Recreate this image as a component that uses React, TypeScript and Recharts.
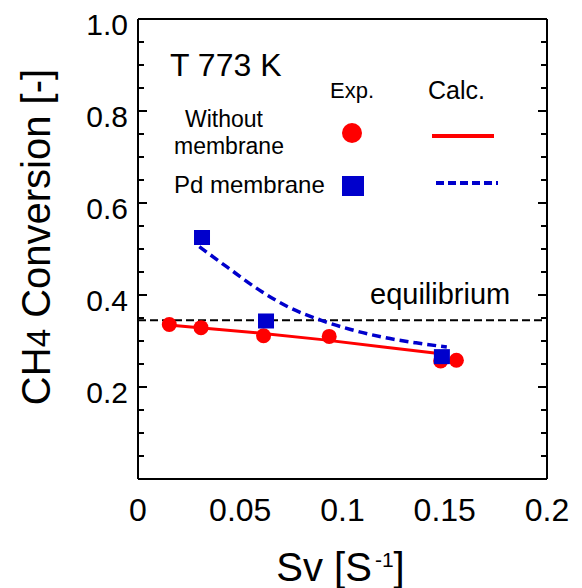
import React from 'react'
import { ComposedChart, Line, Scatter, XAxis, YAxis, ReferenceLine } from 'recharts'

const FONT = '"Liberation Sans", Arial, Helvetica, sans-serif'
const RED = '#ff0000'
const BLUE = '#0000cc'

const expSvWithout = [0.0153, 0.0308, 0.0614, 0.0935, 0.148, 0.1557]
const expConvWithout = [0.336, 0.329, 0.3115, 0.31, 0.2565, 0.258]
const expSvPd = [0.0313, 0.0626, 0.1486]
const expConvPd = [0.525, 0.3435, 0.266]

// calculated curves
const calcSvWithout = [0.015, 0.03, 0.06, 0.09, 0.12, 0.147]
const calcConvWithout = [0.335, 0.329, 0.317, 0.303, 0.287, 0.273]
const calcSvPd = [0.03, 0.0435, 0.0606, 0.073, 0.089, 0.104, 0.12, 0.136, 0.151]
const calcConvPd = [0.505, 0.461, 0.407, 0.375, 0.346, 0.325, 0.308, 0.296, 0.287]

const equilibrium = 0.345

// axes
const xDomain = [0, 0.2]
const yDomain = [0, 1]
const xLabels = [0, 0.05, 0.1, 0.15, 0.2]
const xMajor = [0.05, 0.1, 0.15]
const xMinor = [0.01, 0.02, 0.03, 0.04, 0.06, 0.07, 0.08, 0.09, 0.11, 0.12, 0.13, 0.14, 0.16, 0.17, 0.18, 0.19]
const yLabels = [0.2, 0.4, 0.6, 0.8, 1.0]
const yMajor = [0.2, 0.4, 0.6, 0.8]
const yMinor = [0.05, 0.1, 0.15, 0.25, 0.3, 0.35, 0.45, 0.5, 0.55, 0.65, 0.7, 0.75, 0.85, 0.9, 0.95]

const toPoints = (xs: number[], ys: number[]) => xs.map((sv, i) => ({ sv, conv: ys[i] }))

const expWithout = toPoints(expSvWithout, expConvWithout)
const expPd = toPoints(expSvPd, expConvPd)
const calcWithout = toPoints(calcSvWithout, calcConvWithout)
const calcPd = toPoints(calcSvPd, calcConvPd)

const Blank = () => <g />

function RedDot({ cx, cy }: any) {
  return <circle cx={cx} cy={cy} r={7.5} fill={RED} />
}

function BlueSquare({ cx, cy }: any) {
  return <rect x={cx - 8} y={cy - 7.5} width={16} height={15} fill={BLUE} />
}

function YLabel({ viewBox }: any) {
  const cx = viewBox.x + 50
  const cy = viewBox.y + viewBox.height / 2 - 12
  return (
    <text
      x={cx}
      y={cy}
      transform={`rotate(-90 ${cx} ${cy})`}
      textAnchor="middle"
      fontSize={40}
      fontFamily={FONT}
      fill="#000"
    >
      CH<tspan fontSize={33}>4</tspan> Conversion [-]
    </text>
  )
}

function XLabel({ viewBox }: any) {
  const cx = viewBox.x + viewBox.width / 2 - 2
  const cy = viewBox.y + 102
  return (
    <text x={cx} y={cy} textAnchor="middle" fontSize={40} fontFamily={FONT} fill="#000">
      Sv [S
      <tspan fontSize={21} dx={3} dy={-14}>-1</tspan>
      <tspan dy={14}>]</tspan>
    </text>
  )
}

const tickStroke = { stroke: '#000', strokeWidth: 2 }
const frame = { stroke: '#000', strokeWidth: 2 }
// mirrored axes must keep a non-zero size or recharts skips them
const THIN = 0.01

export default function App() {
  return (
    <div style={{ position: 'absolute', left: 0, top: 0, width: 582, height: 588, background: '#fff' }}>
      <ComposedChart width={582} height={588} margin={{ top: 19, right: 35, bottom: 0, left: 0 }}>
        {/* label axes carrying the data */}
        <XAxis
          xAxisId="x"
          dataKey="sv"
          type="number"
          domain={xDomain}
          allowDataOverflow
          ticks={xLabels}
          interval={0}
          height={109}
          tickSize={0}
          tickMargin={19}
          tickLine={false}
          axisLine={frame}
          tick={{ fontSize: 32, fill: '#000', fontFamily: FONT }}
          label={XLabel}
        />
        <YAxis
          yAxisId="y"
          type="number"
          domain={yDomain}
          allowDataOverflow
          ticks={yLabels}
          interval={0}
          width={138}
          tickSize={0}
          tickMargin={10}
          tickLine={false}
          axisLine={frame}
          tickFormatter={(v: number) => v.toFixed(1)}
          tick={{ fontSize: 30, fill: '#000', fontFamily: FONT, dy: 5 }}
          label={YLabel}
        />

        {/* inward tick marks on all four sides */}
        <XAxis xAxisId="bMaj" orientation="bottom" mirror height={THIN} type="number" domain={xDomain} allowDataOverflow ticks={xMajor} interval={0} tickSize={10} tickLine={tickStroke} axisLine={false} tick={Blank} />
        <XAxis xAxisId="bMin" orientation="bottom" mirror height={THIN} type="number" domain={xDomain} allowDataOverflow ticks={xMinor} interval={0} tickSize={6} tickLine={tickStroke} axisLine={false} tick={Blank} />
        <XAxis xAxisId="tMaj" orientation="top" mirror height={THIN} type="number" domain={xDomain} allowDataOverflow ticks={xMajor} interval={0} tickSize={9} tickLine={tickStroke} axisLine={frame} tick={Blank} />
        <XAxis xAxisId="tMin" orientation="top" mirror height={THIN} type="number" domain={xDomain} allowDataOverflow ticks={xMinor} interval={0} tickSize={6} tickLine={tickStroke} axisLine={false} tick={Blank} />
        <YAxis yAxisId="lMaj" orientation="left" mirror width={THIN} type="number" domain={yDomain} allowDataOverflow ticks={yMajor} interval={0} tickSize={9} tickLine={tickStroke} axisLine={false} tick={Blank} />
        <YAxis yAxisId="lMin" orientation="left" mirror width={THIN} type="number" domain={yDomain} allowDataOverflow ticks={yMinor} interval={0} tickSize={6} tickLine={tickStroke} axisLine={false} tick={Blank} />
        <YAxis yAxisId="rMaj" orientation="right" mirror width={THIN} type="number" domain={yDomain} allowDataOverflow ticks={yMajor} interval={0} tickSize={9} tickLine={tickStroke} axisLine={frame} tick={Blank} />
        <YAxis yAxisId="rMin" orientation="right" mirror width={THIN} type="number" domain={yDomain} allowDataOverflow ticks={yMinor} interval={0} tickSize={6} tickLine={tickStroke} axisLine={false} tick={Blank} />

        <ReferenceLine xAxisId="x" yAxisId="y" y={equilibrium} stroke="#000" strokeWidth={2} strokeDasharray="8 4" />

        <Line
          xAxisId="x"
          yAxisId="y"
          data={calcWithout}
          dataKey="conv"
          type="linear"
          stroke={RED}
          strokeWidth={3}
          dot={false}
          activeDot={false}
          isAnimationActive={false}
        />
        <Line
          xAxisId="x"
          yAxisId="y"
          data={calcPd}
          dataKey="conv"
          type="monotone"
          stroke={BLUE}
          strokeWidth={3.5}
          strokeDasharray="9 5"
          dot={false}
          activeDot={false}
          isAnimationActive={false}
        />
        <Scatter xAxisId="x" yAxisId="y" data={expWithout} dataKey="conv" shape={RedDot} isAnimationActive={false} />
        <Scatter xAxisId="x" yAxisId="y" data={expPd} dataKey="conv" shape={BlueSquare} isAnimationActive={false} />
      </ComposedChart>

      {/* in-plot annotations and legend */}
      <svg width={582} height={588} style={{ position: 'absolute', left: 0, top: 0, pointerEvents: 'none' }}>
        <g fontFamily={FONT} fill="#000">
          <text x={170} y={76} fontSize={32}>T 773 K</text>
          <text x={330} y={98} fontSize={22}>Exp.</text>
          <text x={428} y={99} fontSize={25}>Calc.</text>
          <text x={185} y={127} fontSize={23}>Without</text>
          <text x={174} y={154} fontSize={23}>membrane</text>
          <text x={174} y={193} fontSize={24}>Pd membrane</text>
          <text x={370} y={304} fontSize={29}>equilibrium</text>
        </g>
        <circle cx={352} cy={133} r={10} fill={RED} />
        <rect x={342} y={176} width={22} height={20} fill={BLUE} />
        <line x1={432} x2={494} y1={136} y2={136} stroke={RED} strokeWidth={4} />
        <line x1={436} x2={498} y1={183} y2={183} stroke={BLUE} strokeWidth={4} strokeDasharray="8 4" />
      </svg>
    </div>
  )
}
